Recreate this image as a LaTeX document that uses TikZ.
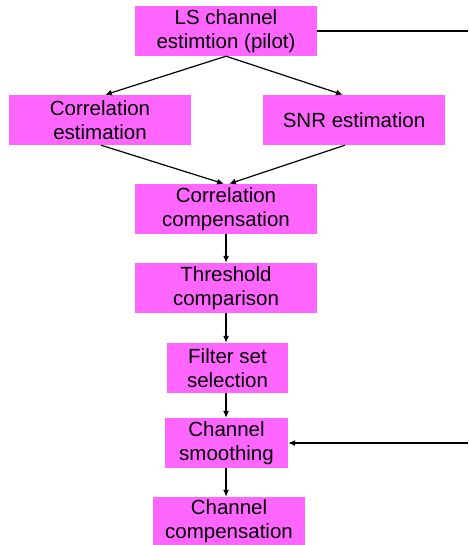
\documentclass[tikz,border=0pt]{standalone}
\usepackage{fontspec}
\setmainfont{Liberation Sans}
\usepackage{xcolor}
\usepackage{tikz}
\usetikzlibrary{arrows.meta,calc}
\definecolor{boxpink}{RGB}{255,102,255}

\begin{document}
\begin{tikzpicture}[x=1pt,y=1pt]
        % Styles for the blocks and the arrows
        \tikzstyle{block}=[fill=boxpink, inner sep=0pt, align=center, font=\fontsize{20.5}{24}\selectfont];
        \tikzstyle{flow}=[line width=1.2pt, -{Latex[length=7pt,width=6pt]}];

        % Picture frame
        \useasboundingbox (0,0) rectangle (468,-545);

        % Blocks
        \node[block, minimum width=182, minimum height=50] (ls) at (226,-31) {LS channel\\estimtion (pilot)};
        \node[block, minimum width=182, minimum height=50] (corr) at (100,-120) {Correlation\\estimation};
        \node[block, minimum width=182, minimum height=50] (snr) at (354,-120) {SNR estimation};
        \node[block, minimum width=182, minimum height=50] (comp) at (226,-209) {Correlation\\compensation};
        \node[block, minimum width=182, minimum height=50] (thr) at (226,-288) {Threshold\\comparison};
        \node[block, minimum width=121, minimum height=50] (filt) at (227.5,-368) {Filter set\\selection};
        \node[block, minimum width=123, minimum height=50] (smooth) at (226.5,-443) {Channel\\smoothing};
        \node[block, minimum width=152, minimum height=48] (chcomp) at (229,-521) {Channel\\compensation};

        % Free ends of the side path
        \coordinate (sideA) at (468,-31);
        \coordinate (sideB) at (468,-443);

        % Arrows
        \draw[flow] (ls.south) -- ([xshift=5]corr.north);
        \draw[flow] (ls.south) -- ([xshift=-11]snr.north);
        \draw[flow] ([xshift=1]corr.south) -- ([xshift=-2]comp.north);
        \draw[flow] ([xshift=-9]snr.south) -- ([xshift=3]comp.north);
        \draw[flow] (comp.south) -- (thr.north);
        \draw[flow] (thr.south) -- ([xshift=-1.5]filt.north);
        \draw[flow] ([xshift=-1.5]filt.south) -- ([xshift=-0.5]smooth.north);
        \draw[flow] ([xshift=-0.5]smooth.south) -- ([xshift=-3]chcomp.north);

        % Side path from the LS estimate to the smoothing
        \draw[line width=1.2pt] (ls.east) -- (sideA);
        \draw[flow] (sideB) -- (smooth.east);

    \end{tikzpicture}
\end{document}
